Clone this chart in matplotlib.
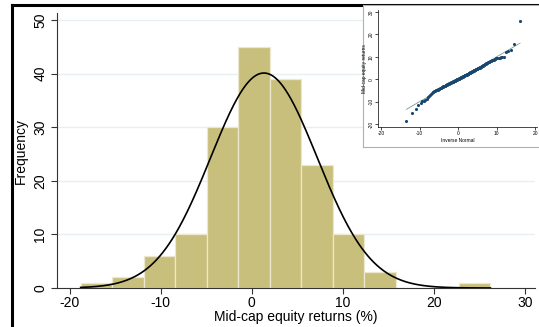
import numpy as np
import matplotlib
matplotlib.use("Agg")
import matplotlib.pyplot as plt
from statistics import NormalDist

plt.rcParams["font.family"] = ["Liberation Sans", "DejaVu Sans"]
plt.rcParams["axes.unicode_minus"] = False

returns = [
    -18.8,
    -15.2, -13.3,
    -11.5, -10.5, -9.9, -9.5, -9.1, -8.7,
    -8.0, -7.3, -6.8, -6.4, -6.1, -5.8, -5.6, -5.4, -5.2, -5.0,
    -4.9, -4.8, -4.6, -4.5, -4.3, -4.2, -4.0, -3.9, -3.8, -3.6,
    -3.5, -3.4, -3.2, -3.1, -3.0, -2.9, -2.8, -2.7, -2.6, -2.5,
    -2.4, -2.3, -2.2, -2.1, -2.0, -1.9, -1.8, -1.7, -1.6, -1.55,
    -1.45, -1.4, -1.3, -1.25, -1.2, -1.1, -1.0, -0.9, -0.85, -0.8,
    -0.7, -0.6, -0.5, -0.45, -0.4, -0.3, -0.2, -0.1, -0.05, 0.0,
    0.1, 0.2, 0.25, 0.3, 0.4, 0.5, 0.6, 0.65, 0.7, 0.8,
    0.9, 1.0, 1.05, 1.1, 1.2, 1.3, 1.4, 1.45, 1.5, 1.6,
    1.7, 1.75, 1.8, 1.9, 1.95,
    2.0, 2.1, 2.2, 2.3, 2.35, 2.4, 2.5, 2.6, 2.7, 2.8,
    2.9, 3.0, 3.1, 3.2, 3.3, 3.35, 3.4, 3.5, 3.6, 3.7,
    3.8, 3.9, 4.0, 4.1, 4.2, 4.3, 4.35, 4.4, 4.5, 4.6,
    4.7, 4.8, 4.9, 5.0, 5.1, 5.15, 5.2, 5.3, 5.4,
    5.5, 5.6, 5.8, 5.9, 6.1, 6.2, 6.4, 6.5, 6.7, 6.8,
    7.0, 7.1, 7.3, 7.4, 7.6, 7.7, 7.9, 8.0, 8.2, 8.3,
    8.5, 8.6, 8.8,
    8.95, 9.1, 9.3, 9.5, 9.6, 9.7, 9.8, 9.9, 10.0, 12.0,
    12.5, 13.0, 15.7,
    26.2,
]
nBins = 13
xTicks = [-20, -10, 0, 10, 20, 30]
yTicks = [0, 10, 20, 30, 40, 50]
qTicksX = [-20, -10, 0, 10, 20]
qTicksY = [-20, -10, 0, 10, 20, 30]

data = np.array(returns)
lo, hi = data.min(), data.max()
mu, sd = data.mean(), data.std(ddof=1)
binWidth = (hi - lo) / nBins

W, H = 539, 327
fig = plt.figure(figsize=(W / 100, H / 100), dpi=100)

def box(x0, y0, x1, y1):
    # pixel box -> figure fraction rect
    return [x0 / W, 1 - y1 / H, (x1 - x0) / W, (y1 - y0) / H]

# outer black frame (left + top only visible)
fig.add_artist(plt.Line2D([12.5 / W, 12.5 / W], [0, 1 - 5 / H], color="black", lw=2.2))
fig.add_artist(plt.Line2D([12.5 / W, 1], [1 - 5 / H, 1 - 5 / H], color="black", lw=2.2))

ax = fig.add_axes(box(57, 13, 535, 288))
ax.hist(data, bins=nBins, range=(lo, hi), color="#c9bf7c",
        edgecolor="#ece8cf", linewidth=0.9, zorder=2)
xs = np.linspace(lo, hi, 400)
pdf = np.array([NormalDist(mu, sd).pdf(v) for v in xs])
ax.plot(xs, len(data) * binWidth * pdf, color="black", lw=1.2, zorder=3)

ax.set_xlim(-21.4, 31.1)
ax.set_ylim(0, 51.3)
ax.set_xticks(xTicks)
ax.set_yticks(yTicks)
ax.set_yticklabels([str(t) for t in yTicks], rotation=90, va="center")
ax.tick_params(axis="both", labelsize=10, length=4, width=0.8, color="#333333", pad=2)
ax.tick_params(axis="y", pad=3)
for t in yTicks[1:]:
    ax.axhline(t, color="#e6eff1", lw=1.0, zorder=1)
for s in ["top", "right"]:
    ax.spines[s].set_visible(False)
for s in ["left", "bottom"]:
    ax.spines[s].set_linewidth(0.8)
    ax.spines[s].set_color("#333333")
ax.set_xlabel("Mid-cap equity returns (%)", fontsize=10, labelpad=0)
ax.set_ylabel("Frequency", fontsize=10, labelpad=4)

# inset: normal quantile plot
bg = fig.add_axes(box(363, 5, 541, 147))
bg.set_xticks([])
bg.set_yticks([])
for s in bg.spines.values():
    s.set_color("#b0b0b0")
    s.set_linewidth(0.8)
bg.set_zorder(5)

ins = fig.add_axes(box(378, 10, 537, 127))
ins.set_zorder(6)
ins.patch.set_alpha(0)
srt = np.sort(data)
n = len(srt)
qx = np.array([NormalDist(mu, sd).inv_cdf((i + 1) / (n + 1)) for i in range(n)])
ins.plot([qx[0], qx[-1]], [qx[0], qx[-1]], color="#7a9a86", lw=0.6, zorder=2)
ins.scatter(qx, srt, s=5, color="#1a476f", zorder=3, linewidths=0)
ins.set_xlim(-20.8, 20.5)
ins.set_ylim(-21.3, 30.9)
ins.set_xticks(qTicksX)
ins.set_yticks(qTicksY)
ins.set_yticklabels([str(t) for t in qTicksY], rotation=90, va="center")
ins.tick_params(axis="both", labelsize=3.5, length=2, width=0.5, pad=1)
for s in ["top", "right"]:
    ins.spines[s].set_visible(False)
for s in ["left", "bottom"]:
    ins.spines[s].set_linewidth(0.5)
ins.set_xlabel("Inverse Normal", fontsize=3.5, labelpad=1)
ins.set_ylabel("Mid-cap equity returns", fontsize=3.5, labelpad=1)

fig.savefig("out.png", dpi=100)
